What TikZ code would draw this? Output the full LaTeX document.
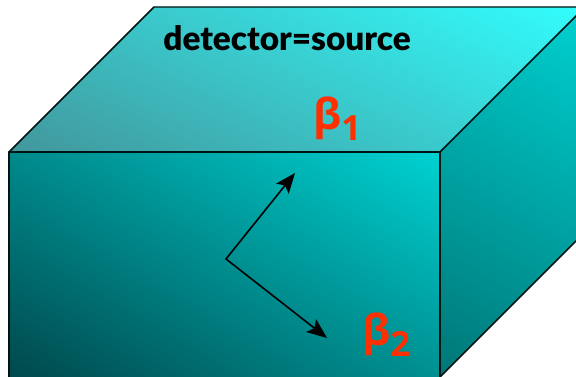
\documentclass[tikz,border=0pt]{standalone}
\usepackage{fontspec}
\setmainfont{Lato}
\newfontfamily\titlefont{Lato Black}
\newfontfamily\betafont{Open Sans}
\usetikzlibrary{arrows.meta}
\definecolor{betared}{RGB}{255,48,0}
\definecolor{topdark}{RGB}{66,150,155}
\definecolor{toplight}{RGB}{50,255,255}
\definecolor{frontdark}{RGB}{0,72,76}
\definecolor{frontlight}{RGB}{0,208,208}
\definecolor{sidedark}{RGB}{0,120,120}
\definecolor{sidelight}{RGB}{0,208,208}
\begin{document}
\begin{tikzpicture}[x=0.75pt, y=-0.75pt, line cap=round, line join=round, >={Stealth[length=15pt,width=12pt,inset=3pt]},
  edge/.style={draw=black!85!teal, line width=1.1pt},
  betalabel/.style={text=betared, font=\betafont\bfseries\fontsize{32}{32}\selectfont, inner sep=0pt, anchor=base west}]

\useasboundingbox (0,0) rectangle (576,377);
\clip (0,0) rectangle (576,377);

% Corners of the block
\coordinate (A) at (9,152);
\coordinate (B) at (440,152);
\coordinate (C) at (440,377);
\coordinate (D) at (9,377);
\coordinate (E) at (154,7);
\coordinate (F) at (585,7);
\coordinate (G) at (585,232);

% Top face
\begin{scope}
\clip (A) -- (E) -- (F) -- (B) -- cycle;
\shade[bottom color=topdark, top color=toplight, shading angle=-25] (-40,-50) rectangle (630,200);
\end{scope}

% Front face
\begin{scope}
\clip (A) -- (B) -- (C) -- (D) -- cycle;
\shade[bottom color=frontdark, top color=frontlight, shading angle=-30] (-50,100) rectangle (490,430);
\end{scope}

% Right face
\begin{scope}
\clip (B) -- (F) -- (G) -- (C) -- cycle;
\shade[bottom color=sidedark, top color=sidelight, shading angle=-30] (390,-40) rectangle (630,420);
\end{scope}

% Edges
\draw[edge] (D) -- (A) -- (B) -- (C);
\draw[edge] (A) -- (E) -- (F);
\draw[edge] (B) -- (F);
\draw[edge] (C) -- (G);

% Text
\node[font=\titlefont\fontsize{25}{25}\selectfont, inner sep=0pt] (title) at (287,38) {detector=source};

% Arrows from the common point
\coordinate (O) at (226,259);
\coordinate (T1) at (295,173);
\coordinate (T2) at (327,338);
\draw[->, line width=1.2pt] (O) -- (T1);
\draw[->, line width=1.2pt] (O) -- (T2);

% Labels
\node[betalabel] (b1) at (313,130) {β\raisebox{-8pt}{\fontsize{26}{26}\selectfont\bfseries 1}};
\node[betalabel] (b2) at (362,346) {β\raisebox{-8pt}{\fontsize{26}{26}\selectfont\bfseries 2}};

\end{tikzpicture}
\end{document}
